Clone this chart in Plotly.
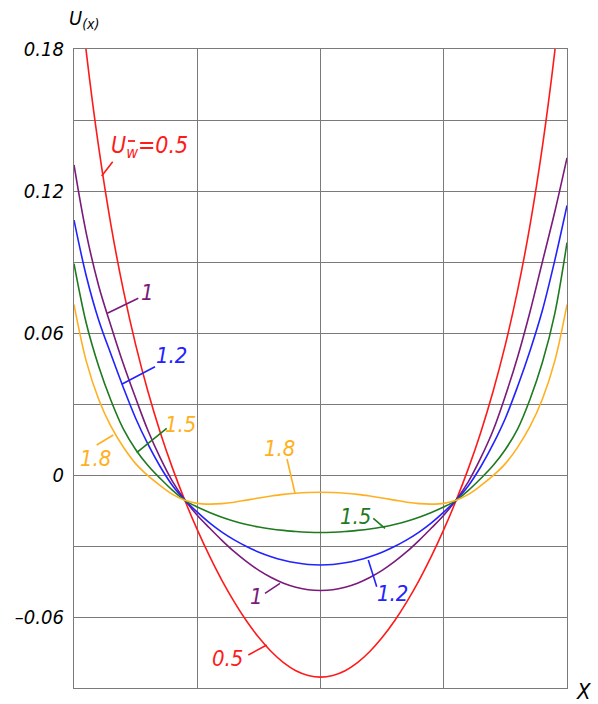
import plotly.graph_objects as go

# ---------------- data ----------------
X = [-2.0, -1.9, -1.8, -1.7, -1.6, -1.5, -1.4, -1.3, -1.2, -1.1, -1.0,
     -0.9, -0.8, -0.7, -0.6, -0.5, -0.4, -0.3, -0.2, -0.1, 0.0,
     0.1, 0.2, 0.3, 0.4, 0.5, 0.6, 0.7, 0.8, 0.9, 1.0,
     1.1, 1.2, 1.3, 1.4, 1.5, 1.6, 1.7, 1.8, 1.9, 2.0]

U_05 = [0.2276, 0.1786, 0.1386, 0.1056, 0.0782, 0.0551, 0.0353, 0.0180, 0.0028, -0.0108, -0.0231,
        -0.0343, -0.0445, -0.0536, -0.0617, -0.0687, -0.0746, -0.0793, -0.0827, -0.0847, -0.0854,
        -0.0847, -0.0827, -0.0793, -0.0746, -0.0687, -0.0617, -0.0536, -0.0445, -0.0343, -0.0231,
        -0.0108, 0.0028, 0.0180, 0.0353, 0.0551, 0.0782, 0.1056, 0.1386, 0.1786, 0.2276]
U_10 = [0.131, 0.102, 0.080, 0.063, 0.047, 0.0325, 0.0188, 0.0072, -0.0028, -0.0106, -0.0170,
        -0.0224, -0.0276, -0.0324, -0.0366, -0.0403, -0.0433, -0.0457, -0.0474, -0.0485, -0.0488,
        -0.0485, -0.0474, -0.0457, -0.0433, -0.0403, -0.0366, -0.0324, -0.0276, -0.0224, -0.0170,
        -0.0106, -0.0028, 0.0072, 0.0188, 0.0335, 0.050, 0.069, 0.090, 0.111, 0.134]
U_12 = [0.1077, 0.0840, 0.0655, 0.0510, 0.0370, 0.0240, 0.0130, 0.0035, -0.0045, -0.0106, -0.0157,
        -0.0202, -0.0241, -0.0274, -0.0302, -0.0326, -0.0345, -0.0360, -0.0371, -0.0378, -0.0380,
        -0.0378, -0.0371, -0.0360, -0.0345, -0.0326, -0.0302, -0.0274, -0.0241, -0.0202, -0.0157,
        -0.0106, -0.0045, 0.0035, 0.0130, 0.0240, 0.0375, 0.0525, 0.0695, 0.0905, 0.1139]
U_15 = [0.0893, 0.0640, 0.0460, 0.0315, 0.0195, 0.0108, 0.0040, -0.0015, -0.0065, -0.0107, -0.0135,
        -0.0158, -0.0178, -0.0195, -0.0209, -0.0220, -0.0228, -0.0234, -0.0239, -0.0242, -0.0243,
        -0.0242, -0.0239, -0.0234, -0.0228, -0.0220, -0.0209, -0.0195, -0.0178, -0.0158, -0.0135,
        -0.0107, -0.0065, -0.0015, 0.0040, 0.0108, 0.0195, 0.0320, 0.0475, 0.0680, 0.0982]
U_18 = [0.0720, 0.0480, 0.0320, 0.0205, 0.0118, 0.0048, -0.0003, -0.0045, -0.0082, -0.0107, -0.0120,
        -0.0123, -0.0121, -0.0115, -0.0106, -0.0097, -0.0089, -0.0082, -0.0077, -0.0074, -0.0073,
        -0.0074, -0.0077, -0.0082, -0.0089, -0.0097, -0.0106, -0.0115, -0.0121, -0.0123, -0.0120,
        -0.0107, -0.0082, -0.0045, -0.0003, 0.0048, 0.0118, 0.0205, 0.0320, 0.0480, 0.0720]

SERIES = [("0.5", U_05, "#ff1a1a"),
          ("1", U_10, "#7a1a7a"),
          ("1.2", U_12, "#2222ff"),
          ("1.5", U_15, "#1f7a1f"),
          ("1.8", U_18, "#ffb020")]

Y_TICKS = [-0.06, 0, 0.06, 0.12, 0.18]
Y_TICK_TEXT = ["\u20130.06", "0", "0.06", "0.12", "0.18"]
Y_MINOR = [-0.09, -0.03, 0.03, 0.09, 0.15]
X_TICKS = [-2, -1, 0, 1, 2]

# ---------------- layout geometry (pixels) ----------------
W, H = 598, 704
L, R, T, B = 74, 567, 49, 688
FONT = "Liberation Sans Narrow, DejaVu Sans Condensed, Liberation Sans, sans-serif"
GRID = "#7a7a7a"


def px(xp, yp):
    return (xp - L) / (R - L), (B - yp) / (B - T)


fig = go.Figure()
for name, vals, col in SERIES:
    fig.add_trace(go.Scatter(x=X, y=vals, mode="lines", name=name,
                             line=dict(color=col, width=1.6, shape="spline", smoothing=1.0),
                             hoverinfo="skip", showlegend=False))

ann = []


def label(text, xp, yp, col, size=22, xanchor="center"):
    x, y = px(xp, yp)
    ann.append(dict(text=text, x=x, y=y, xref="paper", yref="paper", showarrow=False,
                    xanchor=xanchor, yanchor="middle",
                    font=dict(family=FONT, size=size, color=col, style="italic")))


shapes = []


def leader(x0, y0, x1, y1, col, width=1.6):
    a, b = px(x0, y0)
    c, d = px(x1, y1)
    shapes.append(dict(type="line", xref="paper", yref="paper", x0=a, y0=b, x1=c, y1=d,
                       line=dict(color=col, width=width)))


RED, PUR, BLU, GRN, ORG = [s[2] for s in SERIES]

# red U_w^- = 0.5 label (the bar above w drawn as a short line)
label("U<sub>w</sub>=0.5", 109, 147, RED, 23, "left")
leader(128, 141, 135, 141, RED, 1.8)
leader(112.7, 161.7, 101.7, 176, RED)

label("1", 147.5, 292, PUR)
leader(138.3, 298.3, 107.3, 313.3, PUR)

label("1.2", 171.5, 355, BLU)
leader(155, 366.7, 121.7, 384.3, BLU)

label("1.5", 180.5, 424, ORG)
leader(166.7, 428.3, 136.7, 452.7, GRN)

label("1.8", 95, 458, ORG)
leader(96.7, 445, 113.3, 435, ORG)

label("1.8", 279.5, 448, ORG)
leader(287, 459, 295, 493.3, ORG)

label("1.5", 355, 516.5, GRN)
leader(373.3, 518.3, 385, 528.3, GRN)

label("1.2", 392.5, 593, BLU)
leader(368.3, 560, 376.7, 586.7, BLU)

label("1", 256, 596, PUR)
leader(265, 593.3, 280, 583.3, PUR)

label("0.5", 227.5, 658, RED)
leader(248.3, 655, 266.7, 645, RED)

# axis titles
label("U<sub>(x)</sub>", 67, 19, "#000000", 20, "left")
label("X", 583, 691, "#000000", 22)

fig.update_layout(
    width=W, height=H,
    margin=dict(l=L, r=W - R, t=T, b=H - B),
    paper_bgcolor="white", plot_bgcolor="white",
    annotations=ann, shapes=shapes,
    xaxis=dict(range=[-2, 2], tickmode="array", tickvals=X_TICKS, showticklabels=False, ticks="",
               showgrid=True, gridcolor=GRID, gridwidth=1.3, zeroline=False,
               showline=True, mirror=True, linecolor=GRID, linewidth=1.3),
    yaxis=dict(range=[-0.09, 0.18], tickmode="array", tickvals=Y_TICKS, ticktext=Y_TICK_TEXT, ticks="",
               showgrid=True, gridcolor=GRID, gridwidth=1.3, zeroline=False,
               showline=True, mirror=True, linecolor=GRID, linewidth=1.3,
               ticklabelstandoff=5,
               minor=dict(tickmode="array", tickvals=Y_MINOR, showgrid=True,
                          gridcolor=GRID, gridwidth=1.3, ticks=""),
               tickfont=dict(family=FONT, size=20, color="#000000", style="italic")),
)

fig.write_html("out.html", config={"displayModeBar": False},
               post_script="document.body.style.margin='0';document.body.style.padding='0';")
